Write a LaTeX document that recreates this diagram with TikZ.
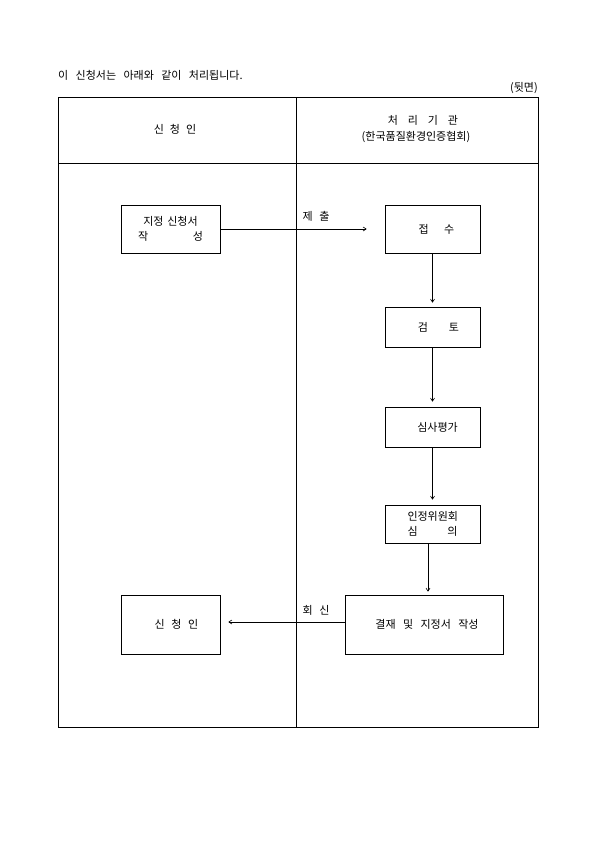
\documentclass[tikz,border=0pt]{standalone}
\usepackage{fontspec}
\setmainfont[WordSpace=3]{Noto Sans CJK KR}
\usetikzlibrary{arrows.meta}
\begin{document}
\begin{tikzpicture}[x=1bp,y=-1bp,
  every node/.style={font=\fontsize{11bp}{15bp}\selectfont, inner sep=0pt},
  frame/.style={draw, line width=0.7bp},
  box/.style={draw, line width=0.7bp, align=center},
  conn/.style={draw, line width=0.6bp, -{Straight Barb[length=3bp,width=4bp]}},
  lbl/.style={anchor=center}]
\useasboundingbox (0,0) rectangle (595,842);
% header texts
\node[anchor=west] (title) at (58,75) {이 신청서는 아래와 같이 처리됩니다.};
\node[anchor=east] (back) at (538,88) {(뒷면)};
% table
\draw[frame] (58,97) rectangle (538,727);
\draw[frame] (58,163) -- (538,163);
\draw[frame] (296,97) -- (296,727);
\node (h1) at (175,129) {신\hspace{0.55em}청\hspace{0.55em}인};
\node (h2) at (423,120) {처\hspace{0.9em}리\hspace{0.9em}기\hspace{0.9em}관};
\node (h3) at (416,137) {(한국품질환경인증협회)};
% boxes
\node[box, minimum width=99bp, minimum height=48bp, text width=65bp] (apply) at (170.5,229) {지정 신청서\\작\hfill 성};
\node[box, minimum width=95bp, minimum height=48bp] (recv) at (432.5,229) {\hspace{8bp}접\hspace{1.4em}수};
\node[box, minimum width=95bp, minimum height=40bp] (review) at (432.5,327) {\hspace{12bp}검\hspace{1.9em}토};
\node[box, minimum width=95bp, minimum height=40bp] (eval) at (432.5,427) {\hspace{10bp}심사평가};
\node[box, minimum width=95bp, minimum height=38bp, text width=50bp] (comm) at (432.5,524) {인정위원회\\심\hfill 의};
\node[box, minimum width=158bp, minimum height=59bp] (final) at (424,624.5) {\hspace{6bp}결재 및 지정서 작성};
\node[box, minimum width=99bp, minimum height=59bp] (appl2) at (170.5,624.5) {\hspace{12bp}신\hspace{0.6em}청\hspace{0.6em}인};
% connectors
\draw[conn, shorten >=18bp] (apply.east) -- (recv.west);
\node (l1) at (316,216) {제\hspace{0.6em}출};
\draw[conn, shorten >=4bp] (recv.south) -- (review.north);
\draw[conn, shorten >=5bp] (review.south) -- (eval.north);
\draw[conn, shorten >=5bp] (eval.south) -- (comm.north);
\draw[conn, shorten >=3bp] ([xshift=-4.5bp]comm.south) -- ([xshift=-4.5bp]comm.south |- final.north);
\draw[conn, shorten >=8bp] ([yshift=2.5bp]final.west) -- ([yshift=2.5bp]appl2.east);
\node (l2) at (316,610) {회\hspace{0.6em}신};
\end{tikzpicture}
\end{document}
